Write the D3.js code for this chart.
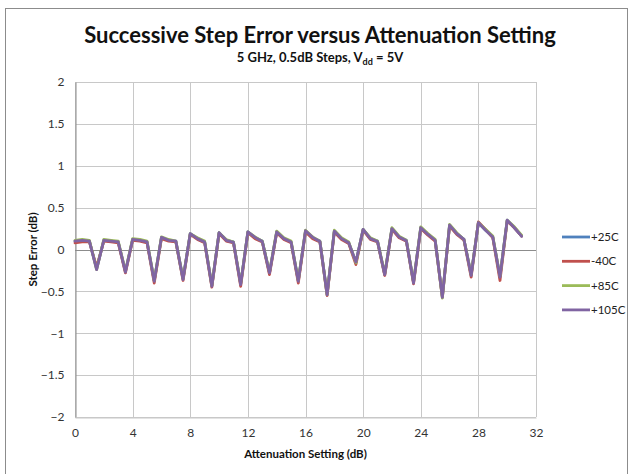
<!DOCTYPE html>
<html>
<head>
<meta charset="utf-8">
<script src="https://cdn.jsdelivr.net/npm/d3@7"></script>
<style>
  html, body { margin: 0; padding: 0; background: #fff; }
  svg { display: block; font-family: Lato, "Liberation Sans", sans-serif; }
</style>
</head>
<body>
<svg id="chart" width="633" height="474"></svg>
<script>
// Attenuation settings, 0 to 31 dB in 0.5 dB steps
const attenuation = d3.range(0, 31.01, 0.5);

// Successive step error (dB) at each setting, one array per temperature
// (first value at 0 dB, then eight values per 4 dB block)
const err25C = [0.10,
  0.11, 0.10, -0.23, 0.11, 0.10, 0.09, -0.26, 0.12,
  0.11, 0.09, -0.37, 0.14, 0.11, 0.10, -0.35, 0.19,
  0.13, 0.09, -0.43, 0.20, 0.11, 0.09, -0.41, 0.21,
  0.14, 0.10, -0.28, 0.21, 0.13, 0.09, -0.37, 0.22,
  0.14, 0.10, -0.53, 0.22, 0.13, 0.08, -0.15, 0.24,
  0.13, 0.10, -0.30, 0.25, 0.15, 0.11, -0.39, 0.26,
  0.18, 0.11, -0.56, 0.29, 0.19, 0.12, -0.30, 0.32,
  0.23, 0.15, -0.32, 0.35, 0.26, 0.16];
const errM40C = [0.08,
  0.09, 0.09, -0.21, 0.10, 0.09, 0.08, -0.28, 0.11,
  0.10, 0.08, -0.40, 0.13, 0.10, 0.09, -0.37, 0.18,
  0.12, 0.08, -0.45, 0.19, 0.10, 0.08, -0.44, 0.20,
  0.13, 0.09, -0.30, 0.20, 0.12, 0.08, -0.40, 0.21,
  0.13, 0.09, -0.55, 0.21, 0.12, 0.07, -0.18, 0.23,
  0.12, 0.09, -0.31, 0.24, 0.14, 0.10, -0.41, 0.25,
  0.17, 0.10, -0.57, 0.28, 0.18, 0.11, -0.33, 0.33,
  0.24, 0.14, -0.37, 0.34, 0.26, 0.16];
const err85C = [0.11,
  0.12, 0.11, -0.24, 0.12, 0.11, 0.10, -0.26, 0.13,
  0.12, 0.10, -0.37, 0.15, 0.12, 0.10, -0.35, 0.19,
  0.14, 0.10, -0.43, 0.20, 0.12, 0.09, -0.41, 0.21,
  0.15, 0.10, -0.27, 0.22, 0.14, 0.10, -0.37, 0.23,
  0.15, 0.10, -0.54, 0.23, 0.14, 0.09, -0.16, 0.24,
  0.14, 0.10, -0.29, 0.26, 0.16, 0.11, -0.39, 0.27,
  0.19, 0.12, -0.58, 0.30, 0.20, 0.12, -0.30, 0.32,
  0.24, 0.16, -0.32, 0.35, 0.27, 0.17];
const err105C = [0.10,
  0.11, 0.10, -0.24, 0.11, 0.10, 0.09, -0.27, 0.12,
  0.11, 0.09, -0.38, 0.145, 0.11, 0.10, -0.36, 0.19,
  0.13, 0.09, -0.44, 0.20, 0.11, 0.085, -0.42, 0.21,
  0.145, 0.095, -0.28, 0.21, 0.13, 0.09, -0.38, 0.225,
  0.145, 0.095, -0.54, 0.22, 0.13, 0.08, -0.15, 0.24,
  0.13, 0.095, -0.30, 0.25, 0.15, 0.105, -0.40, 0.26,
  0.18, 0.11, -0.57, 0.29, 0.19, 0.12, -0.31, 0.32,
  0.23, 0.15, -0.33, 0.35, 0.26, 0.16];

const seriesNames = ["+25C", "-40C", "+85C", "+105C"];
const seriesColors = ["#4F81BD", "#C0504D", "#9BBB59", "#8064A2"];
const seriesValues = [err25C, errM40C, err85C, err105C];

const xTicks = [0, 4, 8, 12, 16, 20, 24, 28, 32];
const yTicks = [-2, -1.5, -1, -0.5, 0, 0.5, 1, 1.5, 2];

const svg = d3.select("#chart");

// chart frame
svg.append("rect")
  .attr("x", 5.5).attr("y", 8.5)
  .attr("width", 622).attr("height", 480)
  .attr("fill", "#fff").attr("stroke", "#8c8c8c").attr("stroke-width", 1);

const plot = { left: 75, right: 536, top: 82, bottom: 417 };
const x = d3.scaleLinear().domain([0, 32]).range([plot.left, plot.right]);
const y = d3.scaleLinear().domain([-2, 2]).range([plot.bottom, plot.top]);

// gridlines
const grid = svg.append("g");
grid.selectAll("line.h").data(yTicks).join("line")
  .attr("class", "h")
  .attr("x1", plot.left).attr("x2", plot.right)
  .attr("y1", d => Math.round(y(d)) + 0.5).attr("y2", d => Math.round(y(d)) + 0.5)
  .attr("stroke", "#c8c8c8").attr("stroke-width", 1);
grid.selectAll("line.v").data(xTicks).join("line")
  .attr("class", "v")
  .attr("y1", plot.top).attr("y2", plot.bottom)
  .attr("x1", d => Math.round(x(d)) + 0.5).attr("x2", d => Math.round(x(d)) + 0.5)
  .attr("stroke", "#c8c8c8").attr("stroke-width", 1);

// axes
const yAxis = svg.append("g")
  .attr("transform", `translate(${plot.left + 0.5},0)`)
  .call(d3.axisLeft(y).tickValues(yTicks).tickSize(0).tickPadding(11)
    .tickFormat(d3.format("")));
yAxis.select(".domain").attr("stroke", "#8c8c8c");
yAxis.selectAll("text").attr("font-size", 12).attr("fill", "#333")
  .attr("font-family", "Lato, sans-serif");

const xAxis = svg.append("g")
  .attr("transform", `translate(0,${plot.bottom + 0.5})`)
  .call(d3.axisBottom(x).tickValues(xTicks).tickSize(0).tickPadding(11)
    .tickFormat(d3.format("d")));
xAxis.select(".domain").attr("stroke", "#c8c8c8");
xAxis.selectAll("text").attr("font-size", 12).attr("fill", "#333")
  .attr("font-family", "Lato, sans-serif");

// zero line
svg.append("line")
  .attr("x1", plot.left).attr("x2", plot.right)
  .attr("y1", Math.round(y(0)) + 0.5).attr("y2", Math.round(y(0)) + 0.5)
  .attr("stroke", "#8c8c8c").attr("stroke-width", 1);

// series lines
const line = d3.line().x((d, i) => x(attenuation[i])).y(d => y(d));
svg.append("g").selectAll("path").data(seriesValues).join("path")
  .attr("d", d => line(d))
  .attr("fill", "none")
  .attr("stroke", (d, i) => seriesColors[i])
  .attr("stroke-width", 2.8)
  .attr("stroke-linejoin", "round")
  .attr("stroke-linecap", "round");

// titles
svg.append("text")
  .attr("x", 320).attr("y", 43)
  .attr("text-anchor", "middle")
  .attr("font-size", 22).attr("font-weight", "bold").attr("fill", "#111")
  .text("Successive Step Error versus Attenuation Setting");

const sub = svg.append("text")
  .attr("x", 320).attr("y", 62)
  .attr("text-anchor", "middle")
  .attr("font-size", 13).attr("font-weight", "bold").attr("fill", "#111");
sub.append("tspan").text("5 GHz, 0.5dB Steps, V");
sub.append("tspan").attr("font-size", 9).attr("dy", 3).text("dd");
sub.append("tspan").attr("dy", -3).text(" = 5V");

svg.append("text")
  .attr("x", (plot.left + plot.right) / 2).attr("y", 458)
  .attr("text-anchor", "middle")
  .attr("font-size", 11.5).attr("font-weight", "bold").attr("fill", "#111")
  .text("Attenuation Setting (dB)");

svg.append("text")
  .attr("transform", `translate(37,${y(0)}) rotate(-90)`)
  .attr("text-anchor", "middle")
  .attr("font-size", 11.5).attr("font-weight", "bold").attr("fill", "#111")
  .text("Step Error (dB)");

// legend
const legend = svg.append("g");
const items = legend.selectAll("g").data(seriesNames).join("g")
  .attr("transform", (d, i) => `translate(562,${237 + i * 24.3})`);
items.append("line")
  .attr("x1", 0).attr("x2", 28).attr("y1", 0).attr("y2", 0)
  .attr("stroke", (d, i) => seriesColors[i]).attr("stroke-width", 2.8);
items.append("text")
  .attr("x", 29).attr("y", 4)
  .attr("font-size", 11.5).attr("fill", "#222")
  .text(d => d);
</script>
</body>
</html>
